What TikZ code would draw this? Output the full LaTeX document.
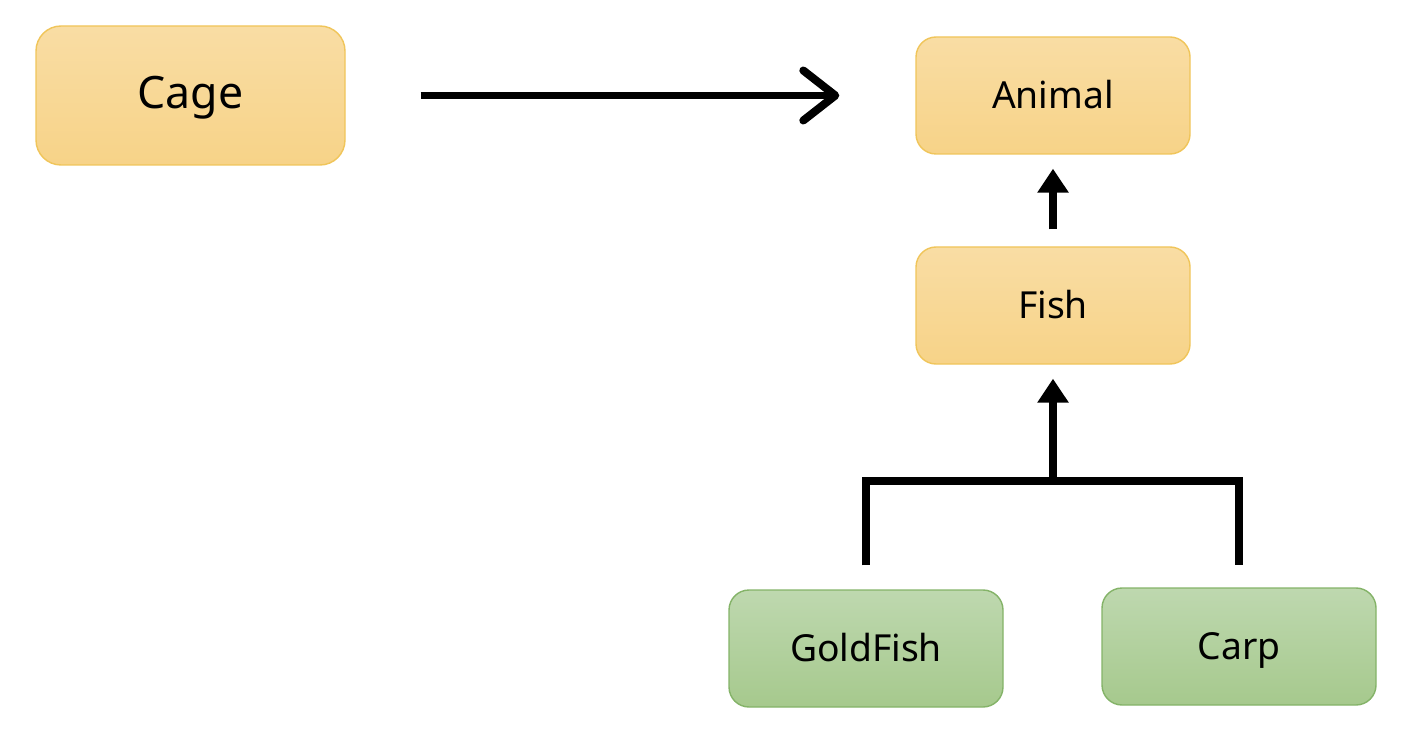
\documentclass[tikz,border=0pt]{standalone}
\usepackage{fontspec}
\setmainfont{Noto Sans}
\usetikzlibrary{positioning}
\usetikzlibrary{arrows.meta}

\definecolor{ytop}{HTML}{F9DDA4}
\definecolor{ybot}{HTML}{F7D388}
\definecolor{yline}{HTML}{F0C55A}
\definecolor{gtop}{HTML}{BED8AF}
\definecolor{gbot}{HTML}{A6C98D}
\definecolor{gline}{HTML}{84B368}

\begin{document}
\begin{tikzpicture}[
  ybox/.style={draw=yline, line width=0.4pt, rounded corners=0.2cm,
    top color=ytop, bottom color=ybot,
    minimum width=2.74cm, minimum height=1.17cm,
    text height=0.714em, text depth=0pt,
    font=\fontsize{10.6}{13}\selectfont},
  gbox/.style={ybox, draw=gline, top color=gtop, bottom color=gbot},
  openarrow/.style={line width=0.07cm,
    -{Straight Barb[length=3.2mm, width=5mm, round, line width=0.08cm]}},
  uparrow/.style={line width=0.08cm, -{Triangle[length=2.4mm, width=3mm]}},
  barline/.style={line width=0.08cm}
]

\useasboundingbox (0,0) rectangle (14.12,7.3);

% boxes
\node[ybox, minimum width=3.09cm, minimum height=1.39cm, rounded corners=0.25cm,
  font=\fontsize{12.7}{15}\selectfont] (cage) at (1.905,6.345) {Cage};
\node[ybox] (animal) at (10.53,6.345) {Animal};
\node[ybox] (fish) at (10.53,4.245) {Fish};
\node[gbox] (goldfish) at (8.66,0.815) {GoldFish};
\node[gbox] (carp) at (12.39,0.835) {Carp};

% arrows
\draw[openarrow, shorten <=0.75cm, shorten >=0.76cm] (cage) -- (animal);
\draw[uparrow, shorten <=0.17cm, shorten >=0.14cm] (fish) -- (animal);

\coordinate (bar) at (10.53,2.49);
\draw[barline] ([yshift=0.24cm]goldfish.north) |- (bar) -| ([yshift=0.22cm]carp.north);
\draw[uparrow, shorten >=0.14cm] (bar) -- (fish);

\end{tikzpicture}
\end{document}
